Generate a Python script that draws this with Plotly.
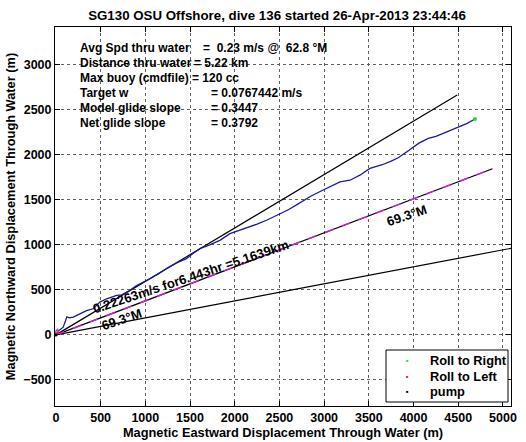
import numpy as np
import plotly.graph_objects as go

# ---- data ----
track_east = [0, 10, 30, 82, 105, 123, 150, 194, 268, 343, 417, 492, 567, 679, 735, 820, 902,
              980, 1051, 1150, 1250, 1350, 1461, 1540, 1611, 1720, 1834, 1946, 2050, 2133, 2250,
              2356, 2505, 2600, 2700, 2850, 2950, 3046, 3177, 3289, 3400, 3512, 3650, 3750, 3829,
              3950, 4060, 4165, 4250, 4332, 4420, 4519, 4600, 4687]
track_north = [0, 20, 45, 86, 150, 200, 190, 197, 234, 270, 290, 364, 401, 438, 445, 490, 549,
               585, 624, 680, 745, 800, 846, 910, 958, 1000, 1050, 1125, 1160, 1190, 1230,
               1273, 1347, 1390, 1450, 1540, 1590, 1634, 1700, 1718, 1774, 1849, 1890, 1930, 1968,
               2050, 2130, 2183, 2205, 2238, 2275, 2313, 2350, 2398]
start_east = [0, -5, 5, 20, 28, 15, 0]
start_north = [0, 20, 50, 62, 40, 20, 0]
roll_right_east = [4687]
roll_right_north = [2398]
roll_left_east = [5]
roll_left_north = [10]
pump_east = [0]
pump_north = [0]

heading_deg = 69.3
spread_deg = 10.0
line_len_m = 5220.0

info_labels = ["Avg Spd thru water", "Distance thru water", "Max buoy (cmdfile)",
               "Target w", "Model glide slope", "Net glide slope"]
info_values = ["=  0.23 m/s @  62.8 °M", "= 5.22 km", "= 120 cc",
               "= 0.0767442 m/s", "= 0.3447", "= 0.3792"]
info_eq_px = [201, 192, 190, 209, 209, 209]

legend_names = ["Roll to Right", "Roll to Left", "pump"]
legend_colors = ["#20e020", "#e02020", "black"]

x_ticks = [0, 500, 1000, 1500, 2000, 2500, 3000, 3500, 4000, 4500, 5000]
y_ticks = [-500, 0, 500, 1000, 1500, 2000, 2500, 3000]

title = "SG130 OSU Offshore, dive 136 started 26-Apr-2013 23:44:46"
speed_label = "0.22263m/s for6.443hr =5.1639km"
heading_label = "69.3°M"

# ---- figure ----
FONT = "Liberation Sans"
W, H = 526, 442
L, R, T, B = 55, 15, 27, 36

fig = go.Figure()

def ray(hdg):
    r = np.radians(hdg)
    return [0, line_len_m * np.sin(r)], [0, line_len_m * np.cos(r)]

for h in (heading_deg - spread_deg, heading_deg + spread_deg, heading_deg):
    xs, ys = ray(h)
    fig.add_trace(go.Scatter(x=xs, y=ys, mode="lines", line=dict(color="black", width=1.2),
                             showlegend=False, hoverinfo="skip"))
xs, ys = ray(heading_deg)
fig.add_trace(go.Scatter(x=xs, y=ys, mode="lines", line=dict(color="#d020d0", width=1.5, dash="dash"),
                         showlegend=False, hoverinfo="skip"))

fig.add_trace(go.Scatter(x=track_east, y=track_north, mode="lines",
                         line=dict(color="#1a1aa0", width=1.3), showlegend=False))
fig.add_trace(go.Scatter(x=start_east, y=start_north, mode="lines",
                         line=dict(color="#c030c0", width=1.3), showlegend=False))

fig.add_trace(go.Scatter(x=roll_right_east, y=roll_right_north, mode="markers", name=legend_names[0],
                         marker=dict(color=legend_colors[0], size=4), showlegend=False))
fig.add_trace(go.Scatter(x=roll_left_east, y=roll_left_north, mode="markers", name=legend_names[1],
                         marker=dict(color=legend_colors[1], size=3), showlegend=False))
fig.add_trace(go.Scatter(x=pump_east, y=pump_north, mode="markers", name=legend_names[2],
                         marker=dict(color=legend_colors[2], size=3), showlegend=False))

ann = []
shapes = []
pw, ph = W - L - R, H - T - B
def px2paper(px, py):
    return (px - L) / pw, (H - B - py) / ph

TXT = 12
for i, (lab, val, eqx) in enumerate(zip(info_labels, info_values, info_eq_px)):
    py = 48 + i * 15
    x0, y0 = px2paper(78, py)
    x1, _ = px2paper(eqx, py)
    ann.append(dict(x=x0, y=y0, xref="paper", yref="paper", text=lab, showarrow=False,
                    xanchor="left", yanchor="middle", font=dict(size=TXT)))
    ann.append(dict(x=x1, y=y0, xref="paper", yref="paper", text=val, showarrow=False,
                    xanchor="left", yanchor="middle", font=dict(size=TXT)))

ang = -18.5
ann.append(dict(x=1516, y=650, text=speed_label, showarrow=False, textangle=ang,
                font=dict(size=13)))
ann.append(dict(x=733, y=170, text=heading_label, showarrow=False, textangle=ang,
                font=dict(size=13)))
ann.append(dict(x=3923, y=1330, text=heading_label, showarrow=False, textangle=ang,
                font=dict(size=13)))

# legend drawn manually
lx0, ly0 = px2paper(386, 350)
lx1, ly1 = px2paper(508, 402)
shapes.append(dict(type="rect", xref="paper", yref="paper", x0=lx0, x1=lx1, y0=ly1, y1=ly0,
                   line=dict(color="black", width=1), fillcolor="white", layer="above"))
for i, (nm, col) in enumerate(zip(legend_names, legend_colors)):
    py = 360.5 + i * 15.5
    mx, my = px2paper(407.5, py)
    tx, _ = px2paper(428, py)
    ann.append(dict(x=mx, y=my, xref="paper", yref="paper", text="■", showarrow=False,
                    xanchor="center", yanchor="middle", font=dict(size=4, color=col)))
    ann.append(dict(x=tx, y=my, xref="paper", yref="paper", text=nm, showarrow=False,
                    xanchor="left", yanchor="middle", font=dict(size=12.8)))

axis_common = dict(showline=True, linecolor="black", linewidth=1, mirror="allticks",
                   ticks="inside", ticklen=5, tickcolor="black", showgrid=True,
                   gridcolor="#606060", griddash="dot", gridwidth=1, zeroline=False,
                   tickfont=dict(size=12.5, color="black"), automargin=False)

fig.update_layout(
    width=W, height=H, margin=dict(l=L, r=R, t=T, b=B),
    paper_bgcolor="white", plot_bgcolor="white",
    font=dict(family=FONT, color="black", size=12.5, weight="bold"),
    title=dict(text=title, x=277 / W, xanchor="center",
               y=1 - 15 / H, yanchor="middle", font=dict(size=13.3)),
    xaxis=dict(range=[-10, 5090], tickvals=x_ticks,
               title=dict(text="Magnetic Eastward Displacement Through Water (m)", standoff=2,
                          font=dict(size=12.8)), **axis_common),
    yaxis=dict(range=[-790, 3420], tickvals=y_ticks,
               title=dict(text="Magnetic Northward Displacement Through Water (m)", standoff=4,
                          font=dict(size=12.8)), **axis_common),
    annotations=ann,
    shapes=shapes,
    showlegend=False,
)

fig.write_html("out.html", config={"displayModeBar": False},
               post_script="document.body.style.margin='0';document.body.style.padding='0';")
